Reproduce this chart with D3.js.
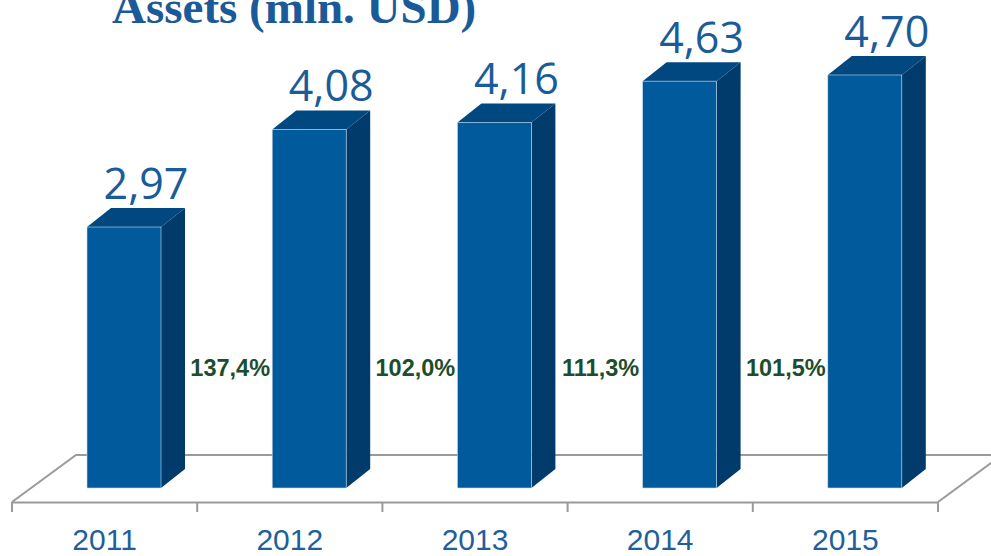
<!DOCTYPE html>
<html>
<head>
<meta charset="UTF-8" />
<script src="https://d3js.org/d3.v7.min.js"></script>
<style>
  body { margin: 0; background: #fff; }
  svg { display: block; }
</style>
</head>
<body>
<svg width="991" height="556"></svg>
<script>
  const years = ["2011", "2012", "2013", "2014", "2015"];
  const assets = [2.97, 4.08, 4.16, 4.63, 4.70];
  const valueLabels = ["2,97", "4,08", "4,16", "4,63", "4,70"];
  const growthLabels = ["137,4%", "102,0%", "111,3%", "101,5%"];

  const svg = d3.select("svg");

  // floor geometry (3d look)
  const floorFront = 502, floorBack = 455;
  const depthX = 24, depthY = -19;   // bar depth offset
  const barBottom = 488, barOffset = 75, barW = 74;

  const x = d3.scaleBand().domain(years).range([12, 938]).padding(0);
  const y = d3.scaleLinear().domain([0, 4.70]).range([barBottom, 75]);

  // floor
  const floor = svg.append("g")
    .attr("fill", "none")
    .attr("stroke", "#9a9a9a")
    .attr("stroke-width", 2);
  floor.append("path")
    .attr("d", `M12,${floorFront} L76,${floorBack} L1002,${floorBack}`);
  floor.append("path")
    .attr("d", `M938,${floorFront} L1002,${floorBack}`);

  // axis along front edge
  const axis = svg.append("g")
    .attr("transform", `translate(0,${floorFront})`)
    .call(d3.axisBottom(x).tickSize(0).tickFormat(""));
  axis.select(".domain").attr("stroke", "#9a9a9a").attr("stroke-width", 2);
  axis.selectAll(".tick").remove();
  const edges = x.domain().map(d => x(d)).concat([x.range()[1]]);
  svg.append("g").selectAll("line")
    .data(edges)
    .enter().append("line")
    .attr("x1", d => d).attr("x2", d => d)
    .attr("y1", floorFront).attr("y2", floorFront + 10)
    .attr("stroke", "#9a9a9a")
    .attr("stroke-width", 2);

  svg.append("g").selectAll("text")
    .data(years)
    .enter().append("text")
    .attr("x", d => x(d) + x.bandwidth() / 2)
    .attr("y", 550)
    .attr("text-anchor", "middle")
    .attr("font-family", "Liberation Sans, Arial, sans-serif")
    .attr("font-size", 30)
    .attr("fill", "#1f5f9b")
    .text(d => d);

  // bars
  const bars = svg.append("g").selectAll("g")
    .data(years.map((yr, i) => ({yr, v: assets[i], label: valueLabels[i]})))
    .enter().append("g");

  bars.append("path")   // side
    .attr("d", d => {
      const x1 = x(d.yr) + barOffset + barW, t = y(d.v);
      return `M${x1},${barBottom} L${x1 + depthX},${barBottom + depthY} L${x1 + depthX},${t + depthY} L${x1},${t} Z`;
    })
    .attr("fill", "#003b6b");

  bars.append("path")   // top
    .attr("d", d => {
      const x0 = x(d.yr) + barOffset, t = y(d.v);
      return `M${x0},${t} L${x0 + depthX},${t + depthY} L${x0 + barW + depthX},${t + depthY} L${x0 + barW},${t} Z`;
    })
    .attr("fill", "#00487f");

  bars.append("rect")   // front
    .attr("x", d => x(d.yr) + barOffset)
    .attr("y", d => y(d.v))
    .attr("width", barW)
    .attr("height", d => barBottom - y(d.v))
    .attr("fill", "#005a9c")
    .attr("stroke", "#c9dbec")
    .attr("stroke-width", 0.6);

  bars.append("text")
    .attr("x", d => x(d.yr) + barOffset + barW / 2 + 22)
    .attr("y", d => y(d.v) - 28)
    .attr("text-anchor", "middle")
    .attr("font-family", "Open Sans, sans-serif")
    .attr("font-size", 43)
    .attr("fill", "#1a5c99")
    .text(d => d.label);

  // growth labels between bars
  svg.append("g").selectAll("text")
    .data(growthLabels)
    .enter().append("text")
    .attr("x", (d, i) => x(years[i + 1]) + 33)
    .attr("y", 376)
    .attr("text-anchor", "middle")
    .attr("font-family", "Liberation Sans, Arial, sans-serif")
    .attr("font-weight", "bold")
    .attr("font-size", 23.5)
    .attr("fill", "#1d4d2c")
    .text(d => d);

  // title (cut at top as in the source)
  svg.append("text")
    .attr("x", 112)
    .attr("y", 23)
    .attr("font-family", "Liberation Serif, Times New Roman, serif")
    .attr("font-weight", "bold")
    .attr("font-size", 47)
    .attr("fill", "#1b5a98")
    .text("Assets (mln. USD)");
</script>
</body>
</html>
